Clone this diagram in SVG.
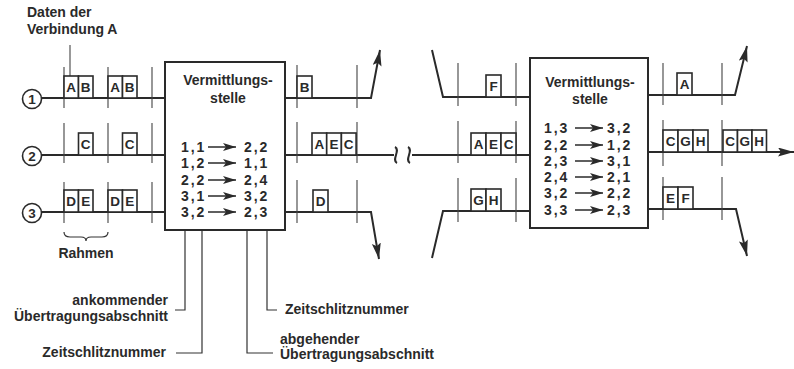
<svg xmlns="http://www.w3.org/2000/svg" width="794" height="369" viewBox="0 0 794 369">
<style>
text{font-family:"Liberation Sans",Arial,sans-serif;font-weight:bold;fill:#2a2a2a}
.t{font-size:14px}
.c{font-size:13.5px;text-anchor:middle}
.m{font-size:14px;word-spacing:-2px}
.ln{fill:none;stroke:#2a2a2a;stroke-width:2}
.tk{fill:none;stroke:#444;stroke-width:1.1}
.fr{fill:#fff;stroke:#2a2a2a;stroke-width:1.6}
.box{fill:#fff;stroke:#2a2a2a;stroke-width:2}
.ld{fill:none;stroke:#333;stroke-width:1.2}
.ma{fill:none;stroke:#2a2a2a;stroke-width:1.5}
.cir{fill:#fff;stroke:#2a2a2a;stroke-width:1.6}
</style>
<defs>
<marker id="ah" markerUnits="userSpaceOnUse" markerWidth="18" markerHeight="10" refX="16" refY="4.5" orient="auto">
<path d="M0,0 L16,4.5 L0,9 L3,4.5 z" fill="#2a2a2a"/>
</marker>
<marker id="mh" markerUnits="userSpaceOnUse" markerWidth="14" markerHeight="9" refX="13" refY="4" orient="auto">
<path d="M0,0 L13,4 L0,8 L3,4 z" fill="#2a2a2a"/>
</marker>
</defs>

<g id="label-daten">
<text class="t" x="27" y="17">Daten der</text>
<text class="t" x="27" y="34">Verbindung A</text>
<path class="tk" d="M70 45 V77"/>
</g>

<g id="inputs-left">
<circle class="cir" cx="32" cy="99" r="9.5"/>
<text class="c" x="32" y="104" font-size="13">1</text>
<circle class="cir" cx="32" cy="156" r="9.5"/>
<text class="c" x="32" y="161" font-size="13">2</text>
<circle class="cir" cx="32" cy="213" r="9.5"/>
<text class="c" x="32" y="218" font-size="13">3</text>
</g>

<g id="connectors">
<path class="ln" d="M41.5 98 H165"/>
<path class="ln" d="M41.5 155 H165"/>
<path class="ln" d="M41.5 212 H165"/>
<path class="ln" d="M285 98 H371 L380 50" marker-end="url(#ah)"/>
<path class="ln" d="M285 212 H371 L379 259" marker-end="url(#ah)"/>
<path class="ln" d="M285 155 H394"/>
<path class="ln" d="M412 155 H530"/>
<path class="ln" d="M395 147 C401 150 391 160 397 163"/>
<path class="ln" d="M408 147 C414 150 404 160 410 163"/>
<path class="ln" d="M432 50 L443 97 H530"/>
<path class="ln" d="M432 258 L443 211 H530"/>
<path class="ln" d="M648 95 H735 L747 46" marker-end="url(#ah)"/>
<path class="ln" d="M648 152 H794" marker-end="url(#ah)"/>
<path class="ln" d="M648 209 H736 L747 256" marker-end="url(#ah)"/>
<path class="tk" d="M64 67 V108 M108 67 V108 M152 67 V108 M64 123 V163 M108 123 V163 M152 123 V163 M64 182 V223 M108 182 V223 M152 182 V223"/>
<path class="tk" d="M297 65 V108 M357 65 V108 M297 122 V163 M357 122 V163 M297 180 V223 M357 180 V223"/>
<path class="tk" d="M458 63 V106 M516 63 V106 M458 121 V163 M516 121 V163 M458 178 V222 M516 178 V222"/>
<path class="tk" d="M663 63 V105 M722 63 V105 M663 120 V166 M722 120 V166 M663 177 V220 M722 177 V220"/>
<path class="ld" d="M64 232 Q64 237 70 237 H81 Q86 237 86 241 Q86 237 91 237 H102 Q108 237 108 232"/>
<path class="ld" d="M185 230 V310 H175"/>
<path class="ld" d="M202 230 V353 H176"/>
<path class="ld" d="M247 230 V353 H273"/>
<path class="ld" d="M267 230 V310 H277"/>
</g>

<g id="frames-left">
<rect class="fr" x="64" y="76" width="14.5" height="22"/><rect class="fr" x="78.5" y="76" width="14.5" height="22"/>
<text class="c" x="71.2" y="92">A</text><text class="c" x="85.7" y="92">B</text>
<rect class="fr" x="108" y="76" width="14.5" height="22"/><rect class="fr" x="122.5" y="76" width="14.5" height="22"/>
<text class="c" x="115.2" y="92">A</text><text class="c" x="129.7" y="92">B</text>
<rect class="fr" x="78.5" y="133" width="14.5" height="22"/><text class="c" x="85.7" y="149">C</text>
<rect class="fr" x="122.5" y="133" width="14.5" height="22"/><text class="c" x="129.7" y="149">C</text>
<rect class="fr" x="64" y="190" width="14.5" height="22"/><rect class="fr" x="78.5" y="190" width="14.5" height="22"/>
<text class="c" x="71.2" y="206">D</text><text class="c" x="85.7" y="206">E</text>
<rect class="fr" x="108" y="190" width="14.5" height="22"/><rect class="fr" x="122.5" y="190" width="14.5" height="22"/>
<text class="c" x="115.2" y="206">D</text><text class="c" x="129.7" y="206">E</text>
<text class="t" x="86" y="258" text-anchor="middle">Rahmen</text>
</g>

<g id="switch-1">
<rect class="box" x="165" y="62" width="120" height="168"/>
<text class="t" x="228" y="85" text-anchor="middle">Vermittlungs-</text>
<text class="t" x="228" y="103" text-anchor="middle">stelle</text>
<text class="m" x="181" y="152">1 , 1</text><path class="ma" d="M208 147 H236" marker-end="url(#mh)"/><text class="m" x="244" y="152">2 , 2</text>
<text class="m" x="181" y="168">1 , 2</text><path class="ma" d="M208 163 H236" marker-end="url(#mh)"/><text class="m" x="244" y="168">1 , 1</text>
<text class="m" x="181" y="185">2 , 2</text><path class="ma" d="M208 180 H236" marker-end="url(#mh)"/><text class="m" x="244" y="185">2 , 4</text>
<text class="m" x="181" y="201">3 , 1</text><path class="ma" d="M208 196 H236" marker-end="url(#mh)"/><text class="m" x="244" y="201">3 , 2</text>
<text class="m" x="181" y="217">3 , 2</text><path class="ma" d="M208 212 H236" marker-end="url(#mh)"/><text class="m" x="244" y="217">2 , 3</text>
</g>

<g id="frames-mid-left">
<rect class="fr" x="297" y="76" width="15" height="22"/><text class="c" x="304.5" y="92">B</text>
<rect class="fr" x="312" y="133" width="14.7" height="22"/><rect class="fr" x="326.7" y="133" width="14.7" height="22"/><rect class="fr" x="341.4" y="133" width="14.7" height="22"/>
<text class="c" x="319.3" y="149">A</text><text class="c" x="334" y="149">E</text><text class="c" x="348.7" y="149">C</text>
<rect class="fr" x="313" y="190" width="15" height="22"/><text class="c" x="320.5" y="206">D</text>
</g>

<g id="frames-mid-right">
<rect class="fr" x="486" y="75" width="15" height="22"/><text class="c" x="493.5" y="91">F</text>
<rect class="fr" x="471" y="133" width="15" height="22"/><rect class="fr" x="486" y="133" width="15" height="22"/><rect class="fr" x="501" y="133" width="15" height="22"/>
<text class="c" x="478.5" y="149">A</text><text class="c" x="493.5" y="149">E</text><text class="c" x="508.5" y="149">C</text>
<rect class="fr" x="471" y="189" width="15" height="22"/><rect class="fr" x="486" y="189" width="15" height="22"/>
<text class="c" x="478.5" y="205">G</text><text class="c" x="493.5" y="205">H</text>
</g>

<g id="switch-2">
<rect class="box" x="530" y="58" width="118" height="170"/>
<text class="t" x="590" y="87" text-anchor="middle">Vermittlungs-</text>
<text class="t" x="590" y="104" text-anchor="middle">stelle</text>
<text class="m" x="544" y="133">1 , 3</text><path class="ma" d="M575 128 H603" marker-end="url(#mh)"/><text class="m" x="607" y="133">3 , 2</text>
<text class="m" x="544" y="150">2 , 2</text><path class="ma" d="M575 145 H603" marker-end="url(#mh)"/><text class="m" x="607" y="150">1 , 2</text>
<text class="m" x="544" y="166">2 , 3</text><path class="ma" d="M575 161 H603" marker-end="url(#mh)"/><text class="m" x="607" y="166">3 , 1</text>
<text class="m" x="544" y="182">2 , 4</text><path class="ma" d="M575 177 H603" marker-end="url(#mh)"/><text class="m" x="607" y="182">2 , 1</text>
<text class="m" x="544" y="198">3 , 2</text><path class="ma" d="M575 193 H603" marker-end="url(#mh)"/><text class="m" x="607" y="198">2 , 2</text>
<text class="m" x="544" y="215">3 , 3</text><path class="ma" d="M575 210 H603" marker-end="url(#mh)"/><text class="m" x="607" y="215">2 , 3</text>
</g>

<g id="frames-right">
<rect class="fr" x="677" y="73" width="15" height="22"/><text class="c" x="684.5" y="89">A</text>
<rect class="fr" x="663" y="130" width="15" height="22"/><rect class="fr" x="678" y="130" width="15" height="22"/><rect class="fr" x="693" y="130" width="15" height="22"/>
<text class="c" x="670.5" y="146">C</text><text class="c" x="685.5" y="146">G</text><text class="c" x="700.5" y="146">H</text>
<rect class="fr" x="723" y="130" width="14.5" height="22"/><rect class="fr" x="737.5" y="130" width="14.5" height="22"/><rect class="fr" x="752" y="130" width="14.5" height="22"/>
<text class="c" x="730.2" y="146">C</text><text class="c" x="744.7" y="146">G</text><text class="c" x="759.2" y="146">H</text>
<rect class="fr" x="663" y="187" width="15" height="22"/><rect class="fr" x="678" y="187" width="15" height="22"/>
<text class="c" x="670.5" y="203">E</text><text class="c" x="685.5" y="203">F</text>
</g>

<g id="legend">
<text class="t" x="168" y="305" text-anchor="end">ankommender</text>
<text class="t" x="168" y="321" text-anchor="end">Übertragungsabschnitt</text>
<text class="t" x="166" y="357" text-anchor="end">Zeitschlitznummer</text>
<text class="t" x="285" y="314">Zeitschlitznummer</text>
<text class="t" x="280" y="344">abgehender</text>
<text class="t" x="280" y="359">Übertragungsabschnitt</text>
</g>
</svg>
